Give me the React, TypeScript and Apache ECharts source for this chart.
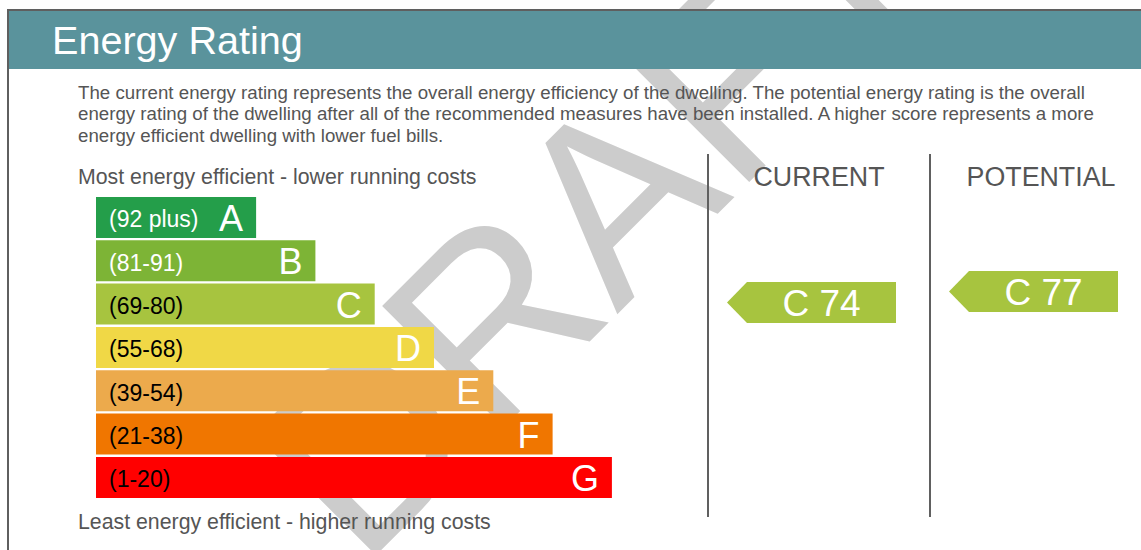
import React, { useEffect, useRef } from "react";
import * as echarts from "echarts";

// ---- data ----
const bands = ["A", "B", "C", "D", "E", "F", "G"];
const ranges = ["(92 plus)", "(81-91)", "(69-80)", "(55-68)", "(39-54)", "(21-38)", "(1-20)"];
const barLengths = [27, 37, 47, 57, 67, 77, 87];
const bandColors = ["#249E4A", "#7DB436", "#A7C43F", "#F0D846", "#ECAA4C", "#F07600", "#FF0000"];
const rangeTextColors = ["#ffffff", "#ffffff", "#000000", "#000000", "#000000", "#000000", "#000000"];
const columns = ["CURRENT", "POTENTIAL"];
const ratings = [74, 77];
const ratingBands = ["C", "C"];
const titleText = "Energy Rating";
const descriptionLines = [
  "The current energy rating represents the overall energy efficiency of the dwelling. The potential energy rating is the overall",
  "energy rating of the dwelling after all of the recommended measures have been installed. A higher score represents a more",
  "energy efficient dwelling with lower fuel bills.",
];
const topCaption = "Most energy efficient - lower running costs";
const bottomCaption = "Least energy efficient - higher running costs";
const watermark = "DRAFT";

const FONT = "'Liberation Sans', Arial, Helvetica, sans-serif";

export default function App() {
  const ref = useRef<HTMLDivElement>(null);

  useEffect(() => {
    if (!ref.current) return;
    const chart = echarts.init(ref.current, undefined, { renderer: "svg" });

    const barData = barLengths.map((v, i) => ({
      value: v,
      itemStyle: { color: bandColors[i] },
      label: { color: rangeTextColors[i] },
    }));

    const ratingData = ratings.map((r, i) => [i, r, ratingBands[i]]);

    const option: any = {
      animation: false,
      backgroundColor: "#ffffff",
      grid: [
        { left: 96, top: 195.8, width: 593, height: 303.3, outerBoundsMode: "none" },
        { left: 708, top: 154, width: 444, height: 363, outerBoundsMode: "none" },
      ],
      xAxis: [
        { gridIndex: 0, type: "value", min: 0, max: 100, show: false },
        {
          gridIndex: 1,
          type: "category",
          data: columns,
          position: "top",
          z: 5,
          axisLine: { show: false },
          axisTick: { show: false },
          axisLabel: {
            margin: -23,
            verticalAlign: "middle",
            fontSize: 26.8,
            fontFamily: FONT,
            color: "#555555",
          },
          splitLine: { show: true, lineStyle: { color: "#606060", width: 2 } },
        },
      ],
      yAxis: [
        { gridIndex: 0, type: "category", data: bands, inverse: true, show: false },
        { gridIndex: 1, type: "value", min: 15.5, max: 114.5, show: false },
      ],
      series: [
        {
          type: "bar",
          xAxisIndex: 0,
          yAxisIndex: 0,
          data: barData,
          barWidth: 41,
          barGap: "-100%",
          z: 2,
          label: {
            show: true,
            position: "insideLeft",
            distance: 13,
            offset: [0, 2],
            fontSize: 23,
            fontFamily: FONT,
            formatter: (p: any) => ranges[p.dataIndex],
          },
        },
        {
          type: "bar",
          xAxisIndex: 0,
          yAxisIndex: 0,
          data: barLengths,
          barWidth: 41,
          barGap: "-100%",
          z: 3,
          itemStyle: { color: "rgba(0,0,0,0)" },
          label: {
            show: true,
            position: "insideRight",
            distance: 13,
            offset: [0, 1],
            fontSize: 36,
            fontFamily: FONT,
            color: "#ffffff",
            formatter: (p: any) => bands[p.dataIndex],
          },
        },
        {
          type: "custom",
          xAxisIndex: 1,
          yAxisIndex: 1,
          z: 4,
          data: ratingData,
          renderItem: (params: any, api: any) => {
            const c = api.coord([api.value(0), api.value(1)]);
            const band = ratingData[params.dataIndex][2] as string;
            const color = bandColors[bands.indexOf(band)];
            const h = 41;
            const cx = c[0];
            const cy = c[1];
            const left = cx - 72;
            const right = cx + 77;
            const tip = cx - 92;
            return {
              type: "group",
              children: [
                {
                  type: "polygon",
                  shape: {
                    points: [
                      [tip, cy],
                      [left, cy - h / 2],
                      [right, cy - h / 2],
                      [right, cy + h / 2],
                      [left, cy + h / 2],
                    ],
                  },
                  style: { fill: color },
                },
                {
                  type: "text",
                  style: {
                    text: band + " " + api.value(1),
                    x: (left + right) / 2,
                    y: cy + 1,
                    align: "center",
                    verticalAlign: "middle",
                    fill: "#ffffff",
                    font: "37px " + FONT,
                  },
                },
              ],
            };
          },
        },
      ],
      graphic: [
        {
          type: "text",
          z: 1,
          x: 595,
          y: 214,
          rotation: Math.PI / 4,
          style: {
            text: watermark,
            align: "center",
            verticalAlign: "middle",
            fill: "#cccccc",
            font: "250px " + FONT,
          },
        },
        {
          type: "rect",
          z: 6,
          shape: { x: 9, y: 11, width: 1140, height: 58 },
          style: { fill: "#5A939C" },
        },
        {
          type: "rect",
          z: 6,
          shape: { x: 8, y: 10, width: 1200, height: 600 },
          style: { fill: "none", stroke: "#5f5f5f", lineWidth: 2 },
        },
        {
          type: "text",
          z: 7,
          x: 52,
          y: 40,
          style: {
            text: titleText,
            verticalAlign: "middle",
            fill: "#ffffff",
            font: "39.6px " + FONT,
          },
        },
        ...descriptionLines.map((t, i) => ({
          type: "text",
          z: 7,
          x: 78,
          y: 92 + i * 21.5,
          style: {
            text: t,
            verticalAlign: "middle",
            fill: "#555555",
            font: "18.7px " + FONT,
          },
        })),
        {
          type: "text",
          z: 7,
          x: 78,
          y: 177,
          style: { text: topCaption, verticalAlign: "middle", fill: "#555555", font: "21.3px " + FONT },
        },
        {
          type: "text",
          z: 7,
          x: 78,
          y: 522,
          style: { text: bottomCaption, verticalAlign: "middle", fill: "#555555", font: "21.3px " + FONT },
        },
      ],
    };

    chart.setOption(option);
    return () => chart.dispose();
  }, []);

  return (
    <div
      ref={ref}
      style={{ position: "absolute", left: 0, top: 0, width: 1141, height: 550 }}
    />
  );
}
